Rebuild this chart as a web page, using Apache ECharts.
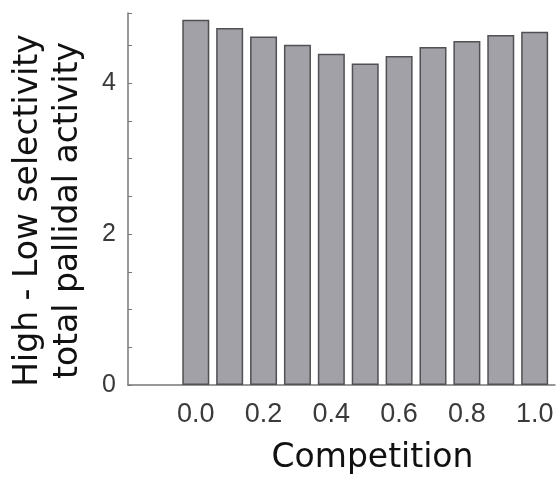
<!DOCTYPE html>
<html>
<head>
<meta charset="utf-8">
<script src="https://cdn.jsdelivr.net/npm/echarts@6/dist/echarts.min.js"></script>
<style>
html,body{margin:0;padding:0;background:#fff;}
#chart{width:558px;height:480px;}
</style>
</head>
<body>
<div id="chart"></div>
<script>
const competition = [0.0, 0.1, 0.2, 0.3, 0.4, 0.5, 0.6, 0.7, 0.8, 0.9, 1.0];
const selectivityDiff = [4.84, 4.73, 4.62, 4.51, 4.39, 4.26, 4.36, 4.48, 4.56, 4.64, 4.68];
const xTickLabels = ['0.0', '0.2', '0.4', '0.6', '0.8', '1.0'];
const yTickLabels = ['0', '2', '4'];
const xTitle = 'Competition';
const yTitle = 'High - Low selectivity\ntotal pallidal activity';

const chart = echarts.init(document.getElementById('chart'), null, {renderer: 'canvas'});
const fmtX = v => {
  const s = (Math.round(v * 10) / 10).toFixed(1);
  return (Math.abs(v - parseFloat(s)) < 1e-6 && xTickLabels.includes(s)) ? s : '';
};
const fmtY = v => {
  const s = String(Math.round(v));
  return (Math.abs(v - Math.round(v)) < 1e-6 && yTickLabels.includes(s)) ? s : '';
};
chart.setOption({
  animation: false,
  backgroundColor: '#fff',
  grid: {left: 126, right: 0, top: 13, bottom: 92, containLabel: false},
  xAxis: {
    type: 'value',
    min: -0.2, max: 1.06, interval: 0.2,
    name: xTitle,
    nameLocation: 'middle',
    nameGap: 57,
    nameTextStyle: {fontFamily: 'DejaVu Sans', fontSize: 33, color: '#111', padding: [0, 0, 0, 62]},
    axisLine: {show: true, onZero: false, lineStyle: {color: '#777', width: 1.5}},
    axisTick: {show: false},
    splitLine: {show: false},
    axisLabel: {formatter: fmtX, fontFamily: 'Liberation Sans', fontSize: 27, color: '#3a3a3a', margin: 16,
      showMinLabel: true, showMaxLabel: true}
  },
  yAxis: {
    type: 'value',
    min: 0, max: 4.93, interval: 0.5,
    name: yTitle,
    nameLocation: 'middle',
    nameGap: 40,
    nameRotate: 90,
    nameTextStyle: {fontFamily: 'DejaVu Sans', fontSize: 33, color: '#111', lineHeight: 40, padding: [0, 23, 0, 0]},
    axisLine: {show: true, onZero: false, lineStyle: {color: '#777', width: 1.5}},
    axisTick: {show: true, inside: true, length: 4, lineStyle: {color: '#777', width: 1}},
    splitLine: {show: false},
    axisLabel: {formatter: fmtY, fontFamily: 'Liberation Sans', fontSize: 25, color: '#3a3a3a', margin: 12}
  },
  series: [{
    type: 'bar',
    data: competition.map((c, i) => [c, selectivityDiff[i]]),
    barWidth: 27,
    itemStyle: {color: '#a2a1a7', borderColor: '#505055', borderWidth: 1.5},
    silent: true
  }]
});
</script>
</body>
</html>
